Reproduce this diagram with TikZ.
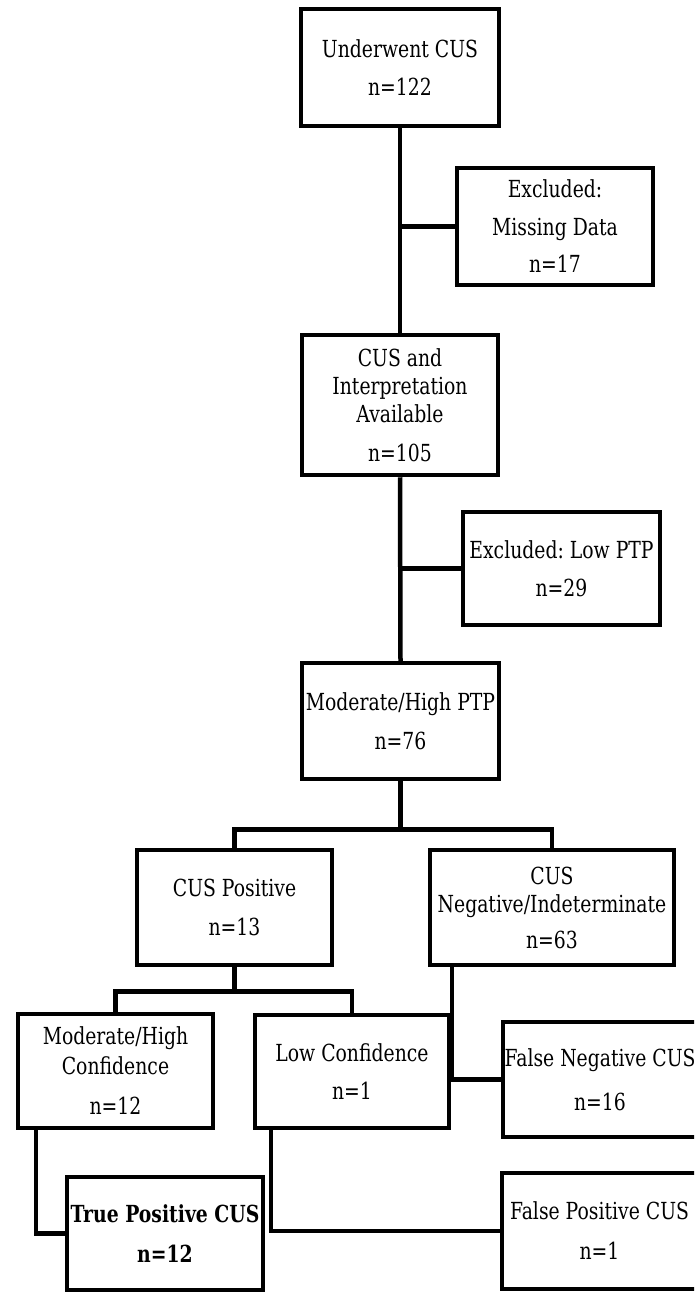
\documentclass[tikz,border=0pt]{standalone}
\usepackage{fontspec}
\setmainfont{DejaVu Serif}[FakeStretch=0.8]
\usetikzlibrary{calc}
\frenchspacing
\tikzset{
  box/.style={draw, line width=4.5pt, inner sep=0pt, align=center, fill=white,
    font=\fontsize{23.5}{28}\selectfont},
  conn/.style={draw, line width=4.5pt}
}
\begin{document}
\begin{tikzpicture}[x=1pt,y=-1pt]
\useasboundingbox (0,0) rectangle (694,1292);
\fill[white] (0,0) rectangle (694,1292);
\clip (0,0) rectangle (694,1292);
% boxes
\node[box, minimum width=198, minimum height=117] (b1) at (400,67.5) {Underwent CUS\\[10pt]n=122};
\node[box, minimum width=196, minimum height=117] (ex1) at (555,226.5) {Excluded:\\[10pt]Missing Data\\[9pt]n=17};
\node[box, minimum width=196, minimum height=140] (b2) at (400,405) {CUS and\\Interpretation\\Available\\[11pt]n=105};
\node[box, minimum width=197, minimum height=113] (ex2) at (561.5,568.5) {Excluded: Low PTP\\[10pt]n=29};
\node[box, minimum width=197, minimum height=116] (b3) at (400.5,721) {Moderate/High PTP\\[11pt]n=76};
\node[box, minimum width=195, minimum height=115] (pos) at (234.5,907.5) {CUS Positive\\[11pt]n=13};
\node[box, minimum width=244, minimum height=115] (neg) at (552,907.5) {CUS\\Negative/Indeterminate\\[8pt]n=63};
\node[box, minimum width=195, minimum height=114] (mhc) at (115.5,1071) {Moderate/High\\[2pt]Confidence\\[12pt]n=12};
\node[box, minimum width=194, minimum height=113] (lowc) at (352,1071.5) {Low Confidence\\[10pt]n=1};
\node[box, minimum width=194, minimum height=115] (fn) at (600,1079.5) {False Negative CUS\\[16pt]n=16};
\node[box, minimum width=196, minimum height=113, font=\fontsize{23.5}{28}\selectfont\bfseries] (tp) at (165,1233.5) {True Positive CUS\\[12pt]n=12};
\node[box, minimum width=195, minimum height=116] (fp) at (599.5,1231) {False Positive CUS\\[12pt]n=1};
% connectors
\draw[conn] (b1.south) -- (b2.north);
\draw[conn] (b1.south |- ex1.west) -- (ex1.west);
\draw[conn] (b2.south) -- (b3.north);
\draw[conn] (b2.south |- ex2.west) -- (ex2.west);
\coordinate (br1) at ($(b3.south)+(0,48)$);
\draw[conn] (b3.south) -- (br1);
\draw[conn] (pos.north) |- (br1);
\draw[conn] (neg.north) |- (br1);
\coordinate (br2) at ($(pos.south)+(0,24)$);
\draw[conn] (pos.south) -- (br2);
\draw[conn] (mhc.north) |- (br2);
\draw[conn] (lowc.north) |- (br2);
\coordinate (nd) at ($(neg.south west)+(24,0)$);
\draw[conn] (nd) |- (fn.west);
\coordinate (md) at ($(mhc.south west)+(20,0)$);
\draw[conn] (md) |- (tp.west);
\coordinate (ld) at ($(lowc.south west)+(18,0)$);
\draw[conn] (ld) |- (fp.west);
\end{tikzpicture}
\end{document}
